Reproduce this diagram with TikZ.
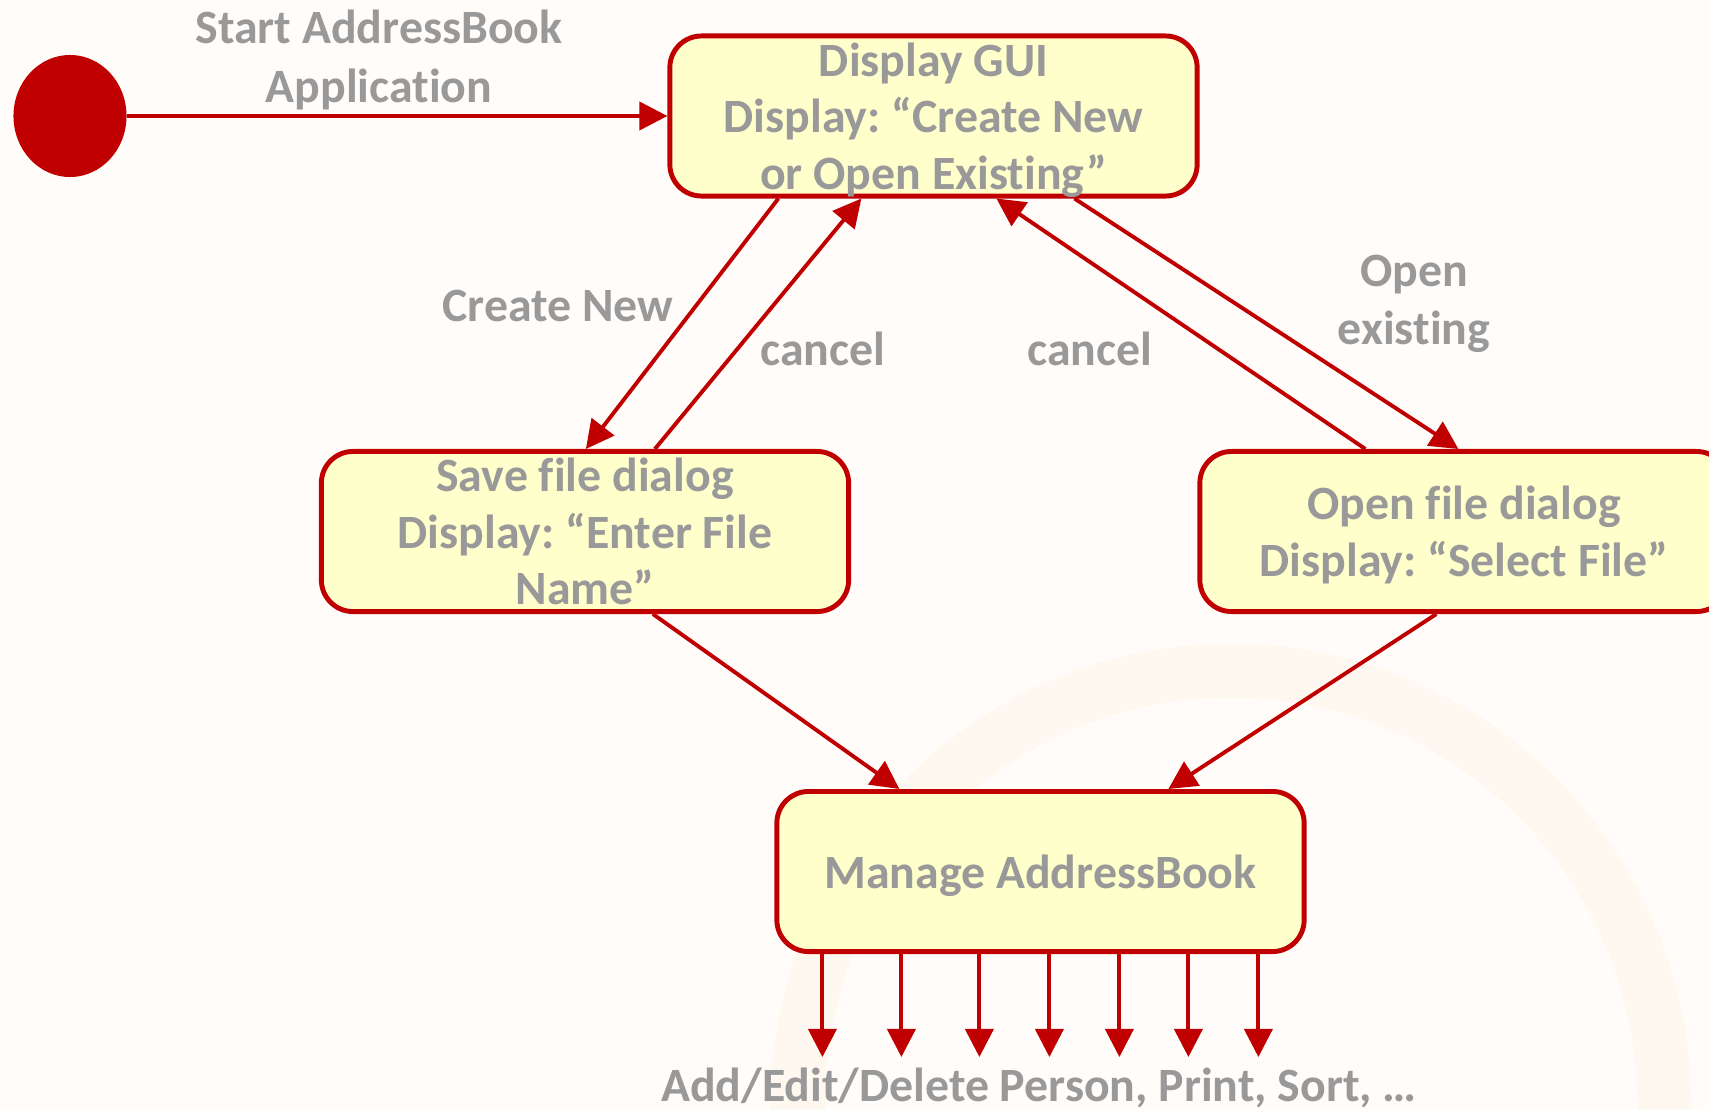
\documentclass[tikz,border=0pt]{standalone}
\usepackage{fontspec}
\setmainfont{Carlito}[Ligatures=NoCommon]
\usepackage{xcolor}
\usepackage{tikz}
\usetikzlibrary{arrows.meta,positioning,shapes.geometric,calc}
\definecolor{vermelhoUML}{HTML}{C00000}
\definecolor{amareloUML}{HTML}{FFFFCC}
\definecolor{cinzaTexto}{HTML}{999999}
\definecolor{fundo}{HTML}{FFFCFA}
\definecolor{marcaDagua}{HTML}{FFF8F0}
\frenchspacing
\tikzset{
    estado/.style={
        rectangle,
        draw=vermelhoUML,
        line width=1.4pt,
        fill=amareloUML,
        rounded corners=9pt,
        align=center,
        inner sep=0pt,
        text depth=0pt,
        minimum width=5.27cm,
        minimum height=1.6cm,
        text=cinzaTexto
    },
    inicial/.style={
        ellipse,
        fill=vermelhoUML,
        inner sep=0pt,
        minimum width=1.13cm,
        minimum height=1.22cm
    },
    fluxo/.style={-{Triangle[length=8pt,width=8pt]}, draw=vermelhoUML, line width=1.1pt},
    rotulo/.style={text=cinzaTexto, align=center,
        font=\fontsize{13.6}{16.6}\selectfont\bfseries}
}

\begin{document}
\begin{tikzpicture}[x=0.01cm, y=-0.01cm,
        font=\fontsize{13.6}{16.1}\selectfont\bfseries]
        % fundo e marca d'agua
        \useasboundingbox (0,0) rectangle (1709,1109);
        \fill[fundo] (0,0) rectangle (1709,1109);
        \begin{scope}
            \clip (0,0) rectangle (1709,1109);
            \draw[marcaDagua, line width=0.54cm] (1231,1104) circle[radius=4.33cm];
        \end{scope}

        \node[inicial] (inicio) at (70,116) {};
        \node[estado] (gui) at (933.5,116)
            {Display GUI\\Display: “Create New\\or Open Existing”};
        \node[estado] (salvar) at (585,531.5)
            {Save file dialog\\Display: “Enter File\\Name”};
        \node[estado, minimum width=5.28cm] (abrir) at (1464,531.5)
            {Open file dialog\\Display: “Select File”};
        \node[estado] (gerenciar) at (1040.5,871.5)
            {Manage AddressBook};

        \node[rotulo] (rotInicio) at (379,60) {Start AddressBook\\Application};
        \node[rotulo] (rotCriar) at (558,306) {Create New};
        \node[rotulo] (rotCancelaA) at (823,349) {cancel};
        \node[rotulo] (rotCancelaB) at (1090,349) {cancel};
        \node[rotulo] (rotAbrir) at (1414,304) {Open\\existing};
        \node[rotulo] (rotAcoes) at (1039,1088) {Add/Edit/Delete Person, Print, Sort, …};

        \draw[fluxo] (inicio.east) -- (gui.west);
        \draw[fluxo] ($(gui.south west)+(111,0)$) -- ($(salvar.north west)+(267,0)$);
        \draw[fluxo] ($(salvar.north west)+(336,0)$) -- ($(gui.south west)+(194,0)$);
        \draw[fluxo] ($(abrir.north west)+(168,0)$) -- ($(gui.south west)+(329,0)$);
        \draw[fluxo] ($(gui.south west)+(407,0)$) -- ($(abrir.north west)+(261,0)$);
        \draw[fluxo] ($(salvar.south west)+(334,0)$) -- ($(gerenciar.north west)+(125,0)$);
        \draw[fluxo] ($(abrir.south west)+(239,0)$) -- ($(gerenciar.north west)+(394,0)$);

        % saidas do estado principal
        \foreach \dx [count=\i] in {48,127,205,275,345,414,484} {
            \coordinate (acao\i) at ($(gerenciar.south west)+(\dx,103)$);
            \draw[fluxo] ($(gerenciar.south west)+(\dx,0)$) -- (acao\i);
        }
    \end{tikzpicture}
\end{document}
